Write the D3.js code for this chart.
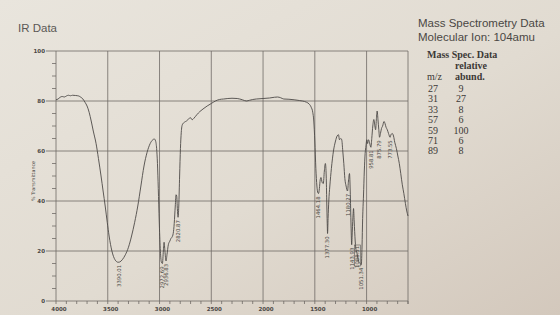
<!DOCTYPE html>
<html>
<head>
<meta charset="utf-8">
<script src="https://cdn.jsdelivr.net/npm/d3@7"></script>
<style>
  body { margin: 0; background: #e2ddd3; }
  svg { display: block; }
</style>
</head>
<body>
<svg id="drawing_region"></svg>
<script>
// IR spectrum (cm-1, %T)
const wavenumbers = [4000,3980,3960,3940,3920,3900,3880,3860,3840,3810,3780,3760,3740,3720,3700,3680,3660,3640,3613,3590,3565,3545,3525,3505,3487,3460,3430,3400,3385,3360,3330,3300,3270,3240,3210,3180,3150,3120,3090,3065,3050,3038,3028,3020,3012,3003,2993,2982,2972,2963,2956,2948,2937,2928,2915,2900,2890,2880,2868,2858,2848,2840,2834,2828,2821,2814,2806,2798,2790,2780,2760,2740,2720,2700,2685,2670,2640,2610,2580,2540,2500,2460,2422,2380,2300,2250,2200,2161,2130,2100,2065,2000,1938,1890,1860,1830,1800,1750,1700,1650,1619,1580,1555,1535,1520,1510,1500,1490,1480,1470,1464,1456,1448,1440,1430,1418,1408,1398,1390,1385,1380,1377,1372,1365,1355,1340,1320,1300,1285,1271,1262,1250,1240,1230,1220,1210,1198,1184,1175,1165,1158,1150,1144,1138,1130,1126,1120,1110,1100,1094,1088,1078,1068,1058,1051,1044,1038,1030,1022,1014,1006,998,990,982,972,964,958,950,940,930,920,913,905,898,890,882,875,866,856,845,832,822,812,800,788,773,765,752,740,728,712,698,684,670,655,640,625,612,600];
const transmittance = [80.5,80.8,81.5,81.8,81.6,82.0,82.3,82.1,82.3,82.2,82.0,81.5,80.8,79.5,78,75.5,72,68,63,57,50,44,38,31.5,26,20,16.5,15.5,15.6,16.5,18.5,21.5,26,31.5,38,46,54,59.5,63,64.5,64.8,64,61,55,45,32,21,15.5,15,20,23.5,20,16,18.5,22.5,24,25,25.5,27,31,38,42.5,42,37,33.5,38,50,61,67.5,70.5,71.5,72,72.8,73.3,72.5,73,74.5,75.8,76.8,78,79,80,80.6,80.8,81.1,81,80.5,80.0,80.3,80.6,80.8,81,81.2,81.5,81.6,81.3,80.8,80.7,80.5,80.2,80,79.5,78.8,77.5,75.5,72,64,53,46,43.2,43,45,48.5,49.4,47.5,47,52,55,50,40,31,27,33,40,46,53,60,64,66,66.5,64.5,65,64.5,60,55,49,46,44,48,51,44,30,22.5,28,35,37,32,24,20,19.5,18,16,15.2,14.8,14.5,22,33,42,52,59,62,64.5,63,64.5,63.5,62,61.5,65,70,72.6,70,68.5,73,76,72.5,68.5,65.5,67,69,70,71.8,71,69.5,68.5,67,65.5,66.5,67,66,63.5,61,58,55,51,46.5,43,39,36,34];

// peak annotations printed under the bands
const peakLabels = ["3390.01","2972.69","2936.83","2820.87","1464.18","1377.30","1180.27","1143.93","1088.51","1051.34","958.81","875.79","773.55"];
const boxedPeaks = ["1088.51"];

const xTicks = [4000,3500,3000,2500,2000,1500,1000];
const yTicks = [0,20,40,60,80,100];

// mass spec table
const msMz = [27,31,33,57,59,71,89];
const msAbund = [9,27,8,6,100,6,8];

class IRChart {

    constructor( config, data ) {
        this.config = {
            parent: config.parent,
            width: config.width || 560,
            height: config.height || 315,
            left: config.left,
            right: config.right,
            top: config.top,
            bottom: config.bottom,
        }
        this.data = data;
        this.init();
    }

    init() {
        let self = this;

        self.svg = d3.select(self.config.parent)
            .attr('width', self.config.width)
            .attr('height', self.config.height);

        // paper background
        const grad = self.svg.append('defs').append('linearGradient')
            .attr('id', 'paper')
            .attr('x1', '0').attr('y1', '0')
            .attr('x2', '1').attr('y2', '1');
        grad.append('stop').attr('offset', '0%').attr('stop-color', '#e9e5dd');
        grad.append('stop').attr('offset', '55%').attr('stop-color', '#e1dbd1');
        grad.append('stop').attr('offset', '100%').attr('stop-color', '#d3c8bc');
        self.svg.append('rect')
            .attr('width', self.config.width)
            .attr('height', self.config.height)
            .attr('fill', 'url(#paper)');

        self.xscale = d3.scaleLinear()
            .domain([4000, 600])
            .range([self.config.left, self.config.right]);
        self.yscale = d3.scaleLinear()
            .domain([0, 100])
            .range([self.config.bottom, self.config.top]);
    }

    render() {
        let self = this;
        const x = self.xscale, y = self.yscale;
        const L = self.config.left, R = self.config.right;
        const T = self.config.top, B = self.config.bottom;
        const lineCol = '#6e6a66';

        const grid = self.svg.append('g')
            .attr('stroke', lineCol)
            .attr('stroke-width', 0.8)
            .attr('fill', 'none');

        // horizontal grid + major y ticks
        grid.selectAll('.hg').data(yTicks).join('line')
            .attr('x1', L - 10).attr('x2', R)
            .attr('y1', d => y(d)).attr('y2', d => y(d));

        // minor y ticks every 5
        grid.selectAll('.my').data(d3.range(0, 101, 5).filter(d => d % 20))
            .join('line')
            .attr('x1', L - 4).attr('x2', L)
            .attr('y1', d => y(d)).attr('y2', d => y(d));

        // vertical grid
        grid.selectAll('.vg').data(xTicks.slice(1)).join('line')
            .attr('x1', d => x(d)).attr('x2', d => x(d))
            .attr('y1', T).attr('y2', B + 3);

        // frame
        grid.append('line').attr('x1', L).attr('x2', L).attr('y1', T).attr('y2', B + 3);
        grid.append('line').attr('x1', R).attr('x2', R).attr('y1', T).attr('y2', B + 3);

        // minor x ticks every 100
        grid.selectAll('.mx').data(d3.range(4000, 599, -100).filter(d => d % 500))
            .join('line')
            .attr('x1', d => x(d)).attr('x2', d => x(d))
            .attr('y1', B).attr('y2', B + 3);

        const tickFont = { 'font-family': 'DejaVu Sans', 'font-size': '5.5px', 'font-weight': 'bold', 'fill': '#4a4744' };

        self.svg.append('g').selectAll('text').data(yTicks).join('text')
            .attr('x', L - 11).attr('y', d => y(d))
            .attr('dy', '0.35em')
            .attr('text-anchor', 'end')
            .attr('font-family', tickFont['font-family']).attr('font-size', tickFont['font-size'])
            .attr('font-weight', tickFont['font-weight']).attr('fill', tickFont.fill)
            .text(d => d);

        self.svg.append('g').selectAll('text').data(xTicks).join('text')
            .attr('x', d => x(d) + 3).attr('y', B + 10)
            .attr('text-anchor', 'middle')
            .attr('font-family', tickFont['font-family']).attr('font-size', tickFont['font-size'])
            .attr('font-weight', tickFont['font-weight']).attr('fill', tickFont.fill)
            .text(d => d);

        self.svg.append('text')
            .attr('transform', `translate(33, ${y(48)}) rotate(-90)`)
            .attr('text-anchor', 'middle')
            .attr('dy', '0.35em')
            .attr('font-family', 'DejaVu Sans').attr('font-size', '4.8px')
            .attr('fill', '#4a4744')
            .text('%  Transmittance');

        // spectrum
        const line = d3.line()
            .x(d => x(d.wn))
            .y(d => y(d.t))
            .curve(d3.curveMonotoneX);

        self.svg.append('path')
            .datum(self.data)
            .attr('d', line)
            .attr('fill', 'none')
            .attr('stroke', '#4d4a47')
            .attr('stroke-width', 0.9);

        // peak labels, hung under the band minimum
        const peaks = peakLabels.map(lbl => {
            const wn = +lbl;
            const near = self.data.filter(d => Math.abs(d.wn - wn) <= 7);
            const tmin = d3.min(near, d => d.t);
            return { lbl: lbl, wn: wn, t: tmin, boxed: boxedPeaks.includes(lbl) };
        });

        const pl = self.svg.append('g').selectAll('g').data(peaks).join('g')
            .attr('transform', d => `translate(${x(d.wn)}, ${y(d.t) + (d.boxed ? -10 : 3)}) rotate(-90)`);

        pl.append('text')
            .attr('text-anchor', 'end')
            .attr('dy', '0.35em')
            .attr('font-family', 'DejaVu Sans').attr('font-size', '5.3px')
            .attr('fill', '#4a4744')
            .text(d => d.lbl);

        pl.filter(d => d.boxed).append('rect')
            .attr('x', -20).attr('y', -3)
            .attr('width', 21).attr('height', 6)
            .attr('fill', 'none')
            .attr('stroke', '#5a5754')
            .attr('stroke-width', 0.6);
    }
}

// headings
const svg = d3.select('#drawing_region');

const chart = new IRChart({
    parent: '#drawing_region',
    width: 560, height: 315,
    left: 56, right: 408, top: 51, bottom: 301,
}, wavenumbers.map((wn, i) => ({ wn: wn, t: transmittance[i] })));
chart.render();

svg.append('text')
    .attr('x', 18).attr('y', 32)
    .attr('font-family', 'Liberation Sans').attr('font-size', '11.5px')
    .attr('fill', '#5b5855')
    .text('IR Data');

svg.append('text')
    .attr('x', 418).attr('y', 27)
    .attr('font-family', 'Liberation Sans').attr('font-size', '11.5px')
    .attr('fill', '#4a4744')
    .text('Mass Spectrometry Data');
svg.append('text')
    .attr('x', 418).attr('y', 40.5)
    .attr('font-family', 'Liberation Sans').attr('font-size', '11.5px')
    .attr('fill', '#4a4744')
    .text('Molecular Ion: 104amu');

const tbl = svg.append('g')
    .attr('font-family', 'Liberation Serif')
    .attr('font-size', '10px')
    .attr('fill', '#3c3936');

const head = tbl.append('text').attr('x', 427).attr('y', 58);
head.append('tspan').attr('font-weight', '600').text('Mass Spec. ');
head.append('tspan').attr('font-weight', 'bold').text('Data');
tbl.append('text').attr('x', 455).attr('y', 69).attr('font-weight', '600').text('relative');
tbl.append('text').attr('x', 427).attr('y', 80).text('m/z');
tbl.append('text').attr('x', 455).attr('y', 80).attr('font-weight', 'bold').text('abund.');

tbl.selectAll('.mz').data(msMz).join('text')
    .attr('x', 428).attr('y', (d, i) => 92 + i * 10.4)
    .text(d => d);
tbl.selectAll('.ab').data(msAbund).join('text')
    .attr('x', 461).attr('y', (d, i) => 92 + i * 10.4)
    .attr('text-anchor', 'middle')
    .text(d => d);
</script>
</body>
</html>
